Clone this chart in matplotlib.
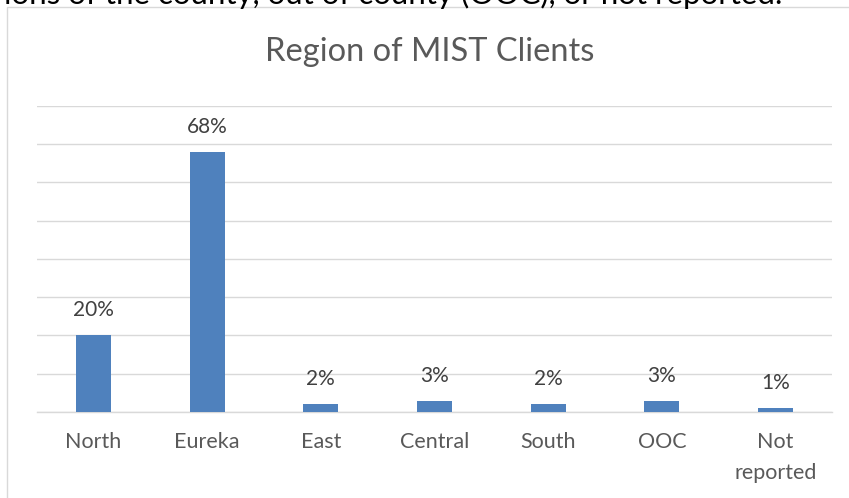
import matplotlib
matplotlib.use("Agg")
import matplotlib.pyplot as plt
from matplotlib.patches import Rectangle

categories = ["North", "Eureka", "East", "Central", "South", "OOC", "Not\nreported"]
values = [20, 68, 2, 3, 2, 3, 1]
value_labels = ["20%", "68%", "2%", "3%", "2%", "3%", "1%"]
title = "Region of MIST Clients"
header_text = "ions of the county, out of county (OOC), or not reported."

W, H = 849, 498
fig = plt.figure(figsize=(W / 100, H / 100), dpi=100)
plt.rcParams['font.family'] = ['Lato', 'DejaVu Sans']

# chart frame (extends beyond right/bottom edges)
fig.patches.append(Rectangle((7 / W, -0.1), 1.2, (H - 7) / H + 0.1,
                             transform=fig.transFigure, fill=False,
                             edgecolor="#d9d9d9", linewidth=1.0))

# cut-off text from the surrounding document
fig.text(782 / W, 1 - 4 / H, header_text, ha="right", va="baseline",
         fontsize=22.5, color="black")

ax = fig.add_axes([36.7 / W, (H - 412) / H, (832.3 - 36.7) / W, (412 - 105.7) / H])
x = range(len(categories))
ax.bar(x, values, width=0.31, color="#4f81bd", zorder=3)
ax.set_xlim(-0.5, len(categories) - 0.5)
ax.set_ylim(0, 80)
ax.set_yticks(range(0, 81, 10))
ax.yaxis.grid(True, color="#d9d9d9", linewidth=1.0, zorder=0)
ax.tick_params(axis="y", left=False, labelleft=False)
ax.tick_params(axis="x", bottom=False, pad=11)
ax.set_xticks(list(x))
ax.set_xticklabels(categories, fontsize=15.5, color="#595959", linespacing=1.65)
for s in ["top", "right", "left"]:
    ax.spines[s].set_visible(False)
ax.spines["bottom"].set_color("#d9d9d9")
ax.spines["bottom"].set_linewidth(1.0)
ax.set_facecolor("none")

for xi, v, lab in zip(x, values, value_labels):
    ax.annotate(lab, (xi, v), xytext=(0, 25), textcoords="offset pixels",
                ha="center", va="center", fontsize=15, color="#404040")

fig.text(430 / W, 1 - 52 / H, title, ha="center", va="center",
         fontsize=23.5, color="#595959")

fig.savefig("out.png", dpi=100)
